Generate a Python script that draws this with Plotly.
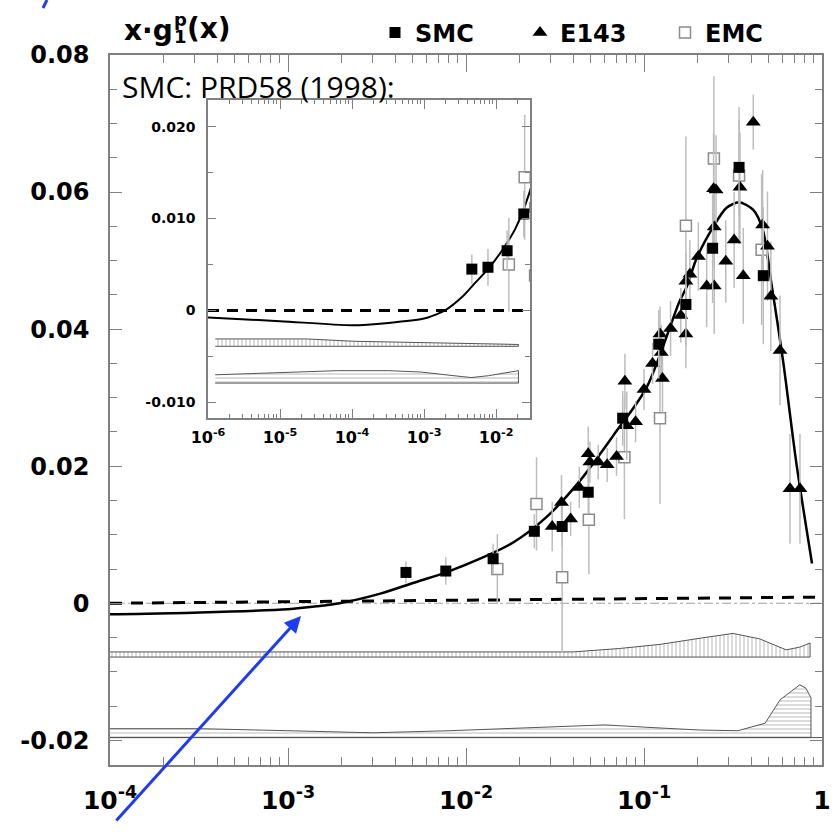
import plotly.graph_objects as go

# ---------------- data ----------------
# SMC (filled squares): x, x*g1, stat. error
smc_x = [0.0046, 0.0077, 0.0142, 0.0242, 0.0347, 0.0486, 0.0759, 0.121, 0.172, 0.243, 0.342, 0.468]
smc_y = [0.0045, 0.0047, 0.0065, 0.0105, 0.0112, 0.0162, 0.0270, 0.0378, 0.0436, 0.0518, 0.0636, 0.0478]
smc_e = [0.0016, 0.0020, 0.0022, 0.0025, 0.0030, 0.0030, 0.0040, 0.0050, 0.0060, 0.0080, 0.0070, 0.0100]

# E143 (filled triangles)
e143_x = [0.0305, 0.0344, 0.0387, 0.0433, 0.0486, 0.0497, 0.0553, 0.0621, 0.0701, 0.0781,
          0.0800, 0.0897, 0.100, 0.1117, 0.123, 0.125, 0.127, 0.141, 0.161, 0.172,
          0.172, 0.181, 0.202, 0.225, 0.248, 0.248, 0.246, 0.254, 0.288, 0.321,
          0.346, 0.361, 0.411, 0.464, 0.494, 0.516, 0.581, 0.661, 0.752]
e143_y = [0.0112, 0.0147, 0.0123, 0.0169, 0.0218, 0.0206, 0.0206, 0.0202, 0.0214, 0.0324,
          0.0259, 0.0265, 0.0312, 0.0350, 0.0393, 0.0366, 0.0328, 0.0401, 0.0420, 0.0393,
          0.0470, 0.0480, 0.0506, 0.0463, 0.0463, 0.0549, 0.0605, 0.0603, 0.0499, 0.0530,
          0.0607, 0.0478, 0.0702, 0.0552, 0.0521, 0.0448, 0.0369, 0.0167, 0.0167]
e143_e = [0.0036, 0.0040, 0.0025, 0.0030, 0.0040, 0.0030, 0.0025, 0.0025, 0.0028, 0.0040,
          0.0050, 0.0030, 0.0030, 0.0030, 0.0040, 0.0040, 0.0050, 0.0040, 0.0040, 0.0050,
          0.0040, 0.0050, 0.0050, 0.0060, 0.0070, 0.0060, 0.0080, 0.0080, 0.0060, 0.0070,
          0.0080, 0.0070, 0.0040, 0.0080, 0.0080, 0.0080, 0.0080, 0.0080, 0.0080]

# EMC (open squares)
emc_x = [0.0150, 0.0249, 0.0347, 0.049, 0.0776, 0.123, 0.172, 0.247, 0.342, 0.458]
emc_y = [0.0050, 0.0145, 0.0038, 0.0122, 0.0213, 0.0270, 0.0551, 0.0649, 0.0624, 0.0516]
emc_e = [0.0051, 0.0068, 0.0110, 0.0080, 0.0090, 0.0125, 0.0130, 0.0120, 0.0100, 0.0110]

# NLO QCD fit curve
fit_x = [1e-6, 1e-5, 1e-4, 3.2e-4, 1e-3, 1.45e-3, 1.95e-3, 3.3e-3, 5.1e-3, 7.8e-3, 0.012,
         0.0185, 0.0284, 0.0437, 0.0673, 0.1035, 0.158, 0.174, 0.198, 0.246, 0.291, 0.342,
         0.411, 0.465, 0.521, 0.605, 0.719, 0.879]
fit_y = [-0.00076, -0.00116, -0.00160, -0.00135, -0.00088, -0.00045, 0.0, 0.0014, 0.0030,
         0.00455, 0.0065, 0.0089, 0.0126, 0.0179, 0.0245, 0.0315, 0.0440, 0.0462, 0.0504,
         0.0550, 0.0577, 0.0585, 0.0574, 0.0545, 0.0465, 0.0353, 0.0203, 0.0058]

# zero reference (dashed)
zero_x = [1e-4, 1.0]
zero_y = [0.0, 0.0009]

# uncertainty bands, main panel
band1_x = [1e-4, 1e-3, 0.01, 0.04, 0.073, 0.123, 0.207, 0.316, 0.447, 0.63, 0.75, 0.857]
band1_top = [-0.0071, -0.0071, -0.0071, -0.0071, -0.0066, -0.0060, -0.0051, -0.0044,
             -0.0052, -0.0068, -0.0064, -0.0058]
band1_base = -0.00785

band2_x = [1e-4, 3.2e-4, 1e-3, 3e-3, 8.1e-3, 0.023, 0.06, 0.123, 0.207, 0.337, 0.479,
           0.581, 0.75, 0.813, 0.867]
band2_top = [-0.0183, -0.0183, -0.0186, -0.0189, -0.0186, -0.0182, -0.01775, -0.0182,
             -0.0185, -0.0186, -0.0175, -0.0141, -0.0119, -0.0124, -0.0138]
band2_base = -0.0196

# uncertainty bands, inset
ibandA_x = [1.26e-6, 2.4e-5, 1.05e-4, 9.1e-4, 0.0204]
ibandA_top = [-0.0031, -0.0031, -0.00335, -0.0035, -0.0037]
ibandA_base = -0.0039

ibandB_x = [1.26e-6, 1.26e-5, 6.3e-5, 3.2e-4, 9.1e-4, 2.6e-3, 4.5e-3, 7.8e-3, 0.0204]
ibandB_top = [-0.0070, -0.0067, -0.00655, -0.00655, -0.0067, -0.0071, -0.0073, -0.0071, -0.00655]
ibandB_base = -0.0079

# axis ticks
main_xticks = [1e-4, 1e-3, 1e-2, 1e-1, 1]
main_xtext = ["10<sup>-4</sup>", "10<sup>-3</sup>", "10<sup>-2</sup>", "10<sup>-1</sup>", "1"]
main_yticks = [-0.02, 0.0, 0.02, 0.04, 0.06, 0.08]
main_ytext = ["-0.02", "0", "0.02", "0.04", "0.06", "0.08"]
ins_xticks = [1e-6, 1e-5, 1e-4, 1e-3, 1e-2]
ins_xtext = ["10<sup>-6</sup>", "10<sup>-5</sup>", "10<sup>-4</sup>", "10<sup>-3</sup>", "10<sup>-2</sup>"]
ins_yticks = [-0.01, 0.0, 0.01, 0.02]
ins_ytext = ["-0.010", "0", "0.010", "0.020"]

# ---------------- figure ----------------
W, H = 837, 832
ML, MR, MT, MB = 110, 15, 55, 67
PW, PH = W - ML - MR, H - MT - MB


def px(x):
    return (x - ML) / PW


def py(y):
    return (H - MB - y) / PH


FRAME = "#808080"
ERR = "#bdbdbd"
BLUE = "#1f3cf2"
BOLD = dict(family="DejaVu Sans", color="black", weight="bold")

fig = go.Figure()


def band(x, top, base, shape, xa, ya):
    fig.add_trace(go.Scatter(
        x=list(x) + list(x)[::-1], y=list(top) + [base] * len(x),
        mode="lines", fill="toself", fillcolor="white",
        fillpattern=dict(shape=shape, fgcolor="#8a8a8a", bgcolor="white", size=4, solidity=0.3),
        line=dict(color="#555555", width=1), xaxis=xa, yaxis=ya,
        showlegend=False, hoverinfo="skip"))


band(band1_x, band1_top, band1_base, "|", "x", "y")
band(band2_x, band2_top, band2_base, "-", "x", "y")
fig.add_trace(go.Scatter(x=[1e-4, 1.0], y=[band2_base, band2_base], mode="lines",
                         line=dict(color="#555555", width=1), showlegend=False, hoverinfo="skip"))
band(ibandA_x, ibandA_top, ibandA_base, "|", "x2", "y2")
band(ibandB_x, ibandB_top, ibandB_base, "-", "x2", "y2")

# zero lines
fig.add_trace(go.Scatter(x=zero_x, y=[0, 0], mode="lines",
                         line=dict(color="#a0a0a0", width=1, dash="dashdot"),
                         showlegend=False, hoverinfo="skip"))
fig.add_trace(go.Scatter(x=zero_x, y=zero_y, mode="lines",
                         line=dict(color="black", width=3, dash="12px,9px"),
                         showlegend=False, hoverinfo="skip"))
fig.add_trace(go.Scatter(x=[1e-6, 0.0295], y=[0, 0], mode="lines", xaxis="x2", yaxis="y2",
                         line=dict(color="black", width=3, dash="11px,8px"),
                         showlegend=False, hoverinfo="skip"))

# fit curve
for xa, ya, w in (("x", "y", 2.5), ("x2", "y2", 2)):
    fig.add_trace(go.Scatter(x=fit_x, y=fit_y, mode="lines", xaxis=xa, yaxis=ya,
                             line=dict(color="black", width=w, shape="spline", smoothing=0.8),
                             showlegend=False, hoverinfo="skip"))

err_style = dict(type="data", color=ERR, thickness=1.5, width=0)
emc_marker = dict(symbol="square", size=11, color="white", line=dict(color="#8c8c8c", width=1.5))
e143_marker = dict(symbol="triangle-up", size=13, color="black")
smc_marker = dict(symbol="square", size=11, color="black")

fig.add_trace(go.Scatter(x=emc_x, y=emc_y, error_y=dict(array=emc_e, **err_style), mode="markers",
                         marker=emc_marker, name="EMC", legendrank=3))
fig.add_trace(go.Scatter(x=e143_x, y=e143_y, error_y=dict(array=e143_e, **err_style), mode="markers",
                         marker=e143_marker, name="E143", legendrank=2))
fig.add_trace(go.Scatter(x=smc_x, y=smc_y, error_y=dict(array=smc_e, **err_style), mode="markers",
                         marker=smc_marker, name="SMC", legendrank=1))

# inset copies of low-x data
fig.add_trace(go.Scatter(x=emc_x, y=emc_y, error_y=dict(array=emc_e, **err_style), mode="markers",
                         marker=emc_marker, xaxis="x2", yaxis="y2", showlegend=False))
fig.add_trace(go.Scatter(x=smc_x, y=smc_y, error_y=dict(array=smc_e, **err_style), mode="markers",
                         marker=smc_marker, xaxis="x2", yaxis="y2", showlegend=False))


def minor_log(lo, hi):
    return [k * 10.0 ** d for d in range(lo, hi) for k in range(2, 10)]


axis_common = dict(showgrid=False, zeroline=False, showline=True, linecolor=FRAME, linewidth=1.5,
                   mirror="allticks", ticks="inside", tickcolor=FRAME, tickwidth=1)

ins_x0, ins_x1, ins_y0, ins_y1 = 208, 530, 418, 100

fig.update_layout(
    width=W, height=H, margin=dict(l=ML, r=MR, t=MT, b=MB, autoexpand=False),
    plot_bgcolor="white", paper_bgcolor="white",
    xaxis=dict(type="log", range=[-4, 0], tickmode="array", tickvals=main_xticks, ticktext=main_xtext,
               ticklen=17, tickfont=dict(size=25, **BOLD), ticklabelstandoff=12,
               minor=dict(tickvals=minor_log(-4, 0), ticks="inside", ticklen=8, tickcolor=FRAME),
               **axis_common),
    yaxis=dict(range=[-0.0236, 0.0800], tickmode="array", tickvals=main_yticks, ticktext=main_ytext,
               ticklen=12, tickfont=dict(size=24, **BOLD), ticklabelstandoff=14,
               minor=dict(dtick=0.005, ticks="inside", ticklen=7, tickcolor=FRAME),
               **axis_common),
    xaxis2=dict(type="log", range=[-6, -1.53], domain=[px(ins_x0), px(ins_x1)], anchor="y2",
                tickmode="array", tickvals=ins_xticks, ticktext=ins_xtext, ticklen=9,
                tickfont=dict(size=16, **BOLD), ticklabelstandoff=4,
                minor=dict(tickvals=minor_log(-6, -1), ticks="inside", ticklen=4, tickcolor=FRAME),
                **axis_common),
    yaxis2=dict(range=[-0.0117, 0.0229], domain=[py(ins_y0), py(ins_y1)], anchor="x2",
                tickmode="array", tickvals=ins_yticks, ticktext=ins_ytext, ticklen=8,
                tickfont=dict(size=14, **BOLD), ticklabelstandoff=8,
                minor=dict(dtick=0.005, ticks="inside", ticklen=5, tickcolor=FRAME),
                **axis_common),
    legend=dict(orientation="h", x=px(375), xanchor="left", y=py(33), yanchor="middle",
                font=dict(size=24, **BOLD), entrywidth=100, entrywidthmode="pixels",
                bgcolor="rgba(0,0,0,0)", itemclick=False),
    showlegend=True,
)

# white backing for the inset frame
fig.add_shape(type="rect", xref="paper", yref="paper", x0=px(ins_x0), x1=px(ins_x1),
              y0=py(ins_y0), y1=py(ins_y1), fillcolor="white", line=dict(width=0), layer="below")

ann = []
# y-axis title x.g1^p(x)
ann.append(dict(text="x·g", x=px(122), y=py(30), xanchor="left", yanchor="middle",
                font=dict(size=28, **BOLD)))
ann.append(dict(text="p", x=px(172), y=py(19), xanchor="left", yanchor="middle",
                font=dict(size=18, **BOLD)))
ann.append(dict(text="1", x=px(172), y=py(36), xanchor="left", yanchor="middle",
                font=dict(size=18, **BOLD)))
ann.append(dict(text="(x)", x=px(185), y=py(28), xanchor="left", yanchor="middle",
                font=dict(size=28, **BOLD)))
# x-axis title
ann.append(dict(text="x", x=px(813), y=py(838), xanchor="center", yanchor="middle",
                font=dict(size=26, **BOLD)))
# reference label
ann.append(dict(text="SMC: PRD58 (1998):", x=px(120), y=py(86), xanchor="left", yanchor="middle",
                font=dict(family="Open Sans", size=30, color="black")))
# blue pointer to the zero crossing
ann.append(dict(text="", x=px(301), y=py(616), ax=-186, ay=206, showarrow=True,
                arrowhead=2, arrowsize=1.1, arrowwidth=3, arrowcolor=BLUE, standoff=0))
for a in ann:
    a.setdefault("xref", "paper")
    a.setdefault("yref", "paper")
    a.setdefault("showarrow", False)
fig.update_layout(annotations=ann)

fig.add_shape(type="line", xref="paper", yref="paper", x0=px(47), y0=py(0), x1=px(43), y1=py(8),
              line=dict(color=BLUE, width=3))

fig.write_html("out.html")
